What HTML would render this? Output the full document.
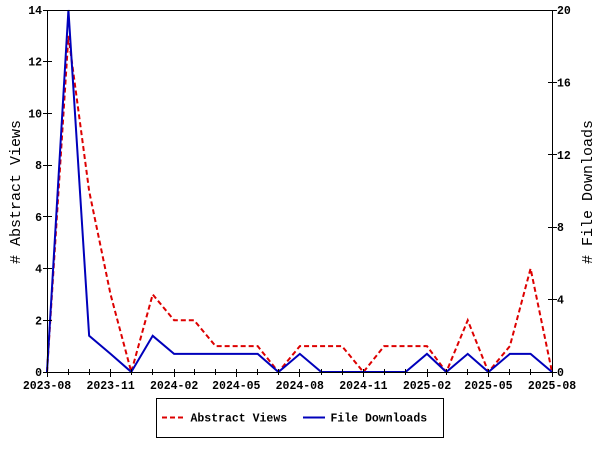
<!DOCTYPE html>
<html>
<head>
<meta charset="utf-8">
<style>
html,body{margin:0;padding:0;background:#fff;}
svg{display:block;}
text{font-family:"Liberation Mono","DejaVu Sans Mono",monospace;fill:#000;}
.tl{font-size:11.5px;font-weight:bold;}
.tt{font-size:15px;}
</style>
</head>
<body>
<svg width="600" height="450" viewBox="0 0 600 450" xmlns="http://www.w3.org/2000/svg">
<rect x="0" y="0" width="600" height="450" fill="#fff"/>

<!-- series -->
<polyline fill="none" stroke="#dd0000" stroke-width="2" stroke-dasharray="5,3"
points="47,372 68.42,35.86 89.14,190.99 110.56,294.43 131.28,372 152.70,294.43 174.11,320.29 194.15,320.29 215.56,346.14 236.29,346.14 257.70,346.14 278.43,372 299.84,346.14 321.26,346.14 341.98,346.14 363.40,372 384.12,346.14 405.54,346.14 426.96,346.14 446.30,372 467.72,320.29 488.44,372 509.86,346.14 530.58,268.57 552,372"/>
<polyline fill="none" stroke="#0000bb" stroke-width="2"
points="47,372 68.42,10 89.14,335.8 110.56,353.9 131.28,372 152.70,335.8 174.11,353.9 194.15,353.9 215.56,353.9 236.29,353.9 257.70,353.9 278.43,372 299.84,353.9 321.26,372 341.98,372 363.40,372 384.12,372 405.54,372 426.96,353.9 446.30,372 467.72,353.9 488.44,372 509.86,353.9 530.58,353.9 552,372"/>

<!-- frame -->
<g shape-rendering="crispEdges" stroke="#000" stroke-width="1" fill="none">
<rect x="47.5" y="10.5" width="505" height="362"/>
<!-- left ticks -->
<path d="M43 372.5H52M43 320.5H52M43 268.5H52M43 216.5H52M43 165.5H52M43 113.5H52M43 61.5H52M43 10.5H52"/>
<!-- right ticks -->
<path d="M548 372.5H557M548 299.5H557M548 227.5H557M548 154.5H557M548 82.5H557M548 10.5H557"/>
<!-- x minor ticks -->
<path d="M68.5 369V375M89.5 369V375M131.5 369V375M152.5 369V375M194.5 369V375M215.5 369V375M257.5 369V375M278.5 369V375M321.5 369V375M342.5 369V375M384.5 369V375M405.5 369V375M446.5 369V375M467.5 369V375M509.5 369V375M530.5 369V375"/>
<!-- x major ticks -->
<path d="M47.5 369V377M110.5 369V377M174.5 369V377M236.5 369V377M299.5 369V377M363.5 369V377M427.5 369V377M488.5 369V377M552.5 369V377"/>
</g>

<!-- left tick labels -->
<g class="tl" text-anchor="end">
<text class="tl" x="42" y="376">0</text>
<text class="tl" x="42" y="324.3">2</text>
<text class="tl" x="42" y="272.6">4</text>
<text class="tl" x="42" y="220.9">6</text>
<text class="tl" x="42" y="169.1">8</text>
<text class="tl" x="42" y="117.4">10</text>
<text class="tl" x="42" y="65.7">12</text>
<text class="tl" x="42" y="14">14</text>
</g>
<!-- right tick labels -->
<g>
<text class="tl" x="557" y="376">0</text>
<text class="tl" x="557" y="303.6">4</text>
<text class="tl" x="557" y="231.2">8</text>
<text class="tl" x="557" y="158.8">12</text>
<text class="tl" x="557" y="86.4">16</text>
<text class="tl" x="557" y="14">20</text>
</g>
<!-- x labels -->
<g text-anchor="middle">
<text class="tl" x="47" y="389">2023-08</text>
<text class="tl" x="110.6" y="389">2023-11</text>
<text class="tl" x="174.1" y="389">2024-02</text>
<text class="tl" x="236.3" y="389">2024-05</text>
<text class="tl" x="299.8" y="389">2024-08</text>
<text class="tl" x="363.4" y="389">2024-11</text>
<text class="tl" x="427" y="389">2025-02</text>
<text class="tl" x="488.4" y="389">2025-05</text>
<text class="tl" x="552" y="389">2025-08</text>
</g>

<!-- axis titles -->
<text class="tt" text-anchor="middle" transform="translate(20,192) rotate(-90)"># Abstract Views</text>
<text class="tt" text-anchor="middle" transform="translate(592,192) rotate(-90)"># File Downloads</text>

<!-- legend -->
<rect x="156.5" y="398.5" width="287" height="39" fill="#fff" stroke="#000" stroke-width="1" shape-rendering="crispEdges"/>
<line x1="162" y1="417.5" x2="184" y2="417.5" stroke="#dd0000" stroke-width="2" stroke-dasharray="5,3"/>
<text class="tl" x="190.5" y="421.5">Abstract Views</text>
<line x1="303" y1="417.5" x2="325" y2="417.5" stroke="#0000bb" stroke-width="2"/>
<text class="tl" x="330.5" y="421.5">File Downloads</text>
</svg>
</body>
</html>
